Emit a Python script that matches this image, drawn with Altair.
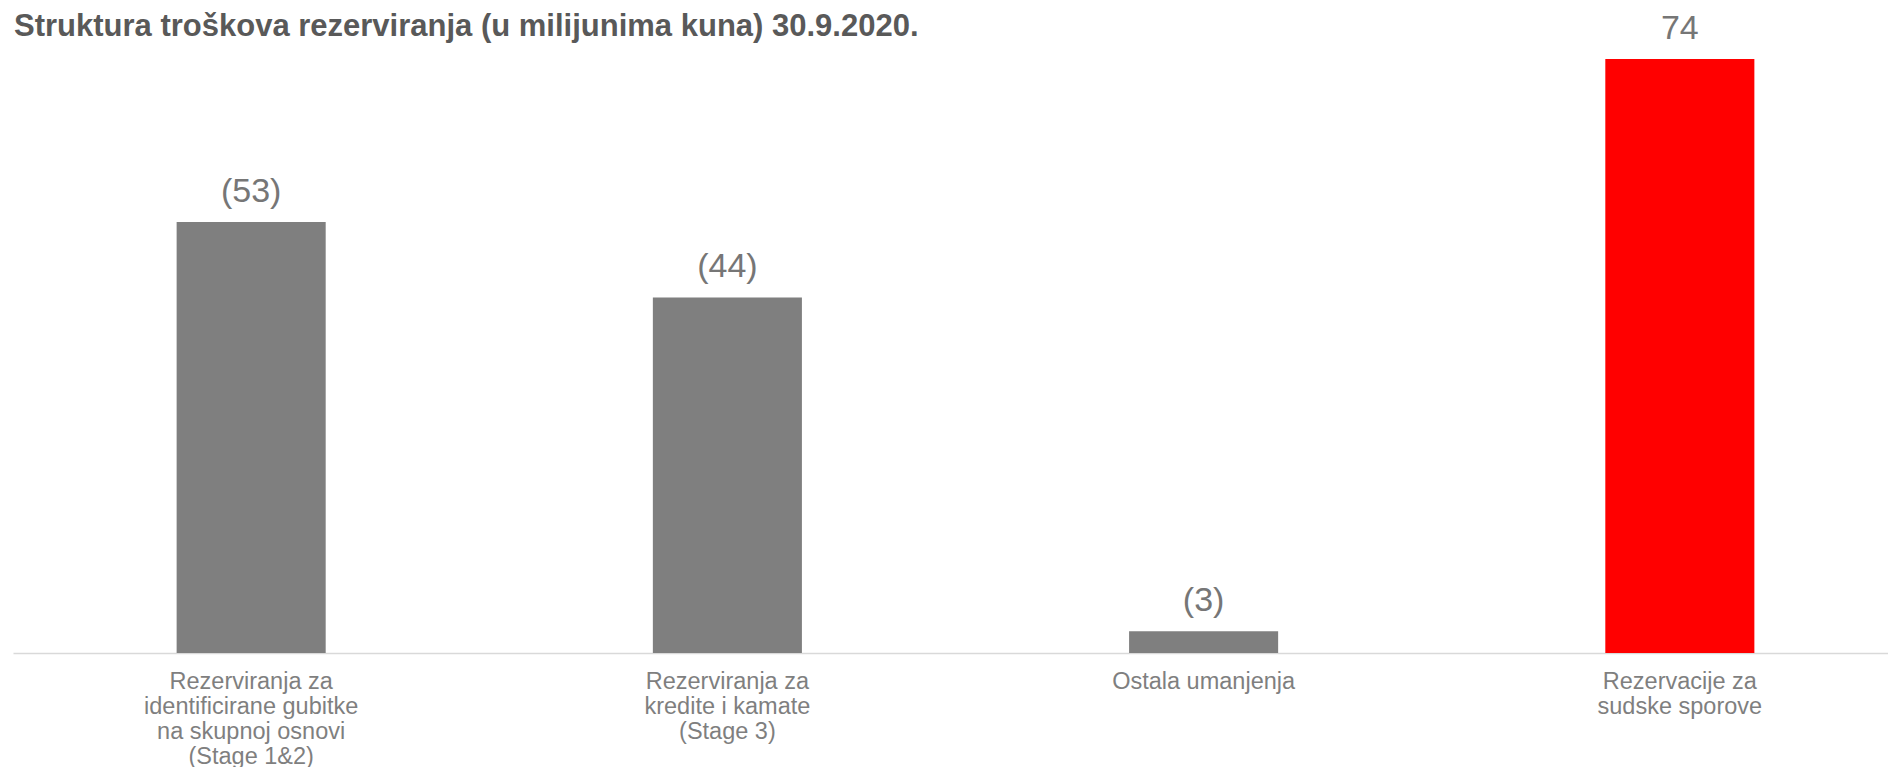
import altair as alt
import pandas as pd

title_text = "Struktura troškova rezerviranja (u milijunima kuna) 30.9.2020."
categories = [
    "Rezerviranja za\nidentificirane gubitke\nna skupnoj osnovi\n(Stage 1&2)",
    "Rezerviranja za\nkredite i kamate\n(Stage 3)",
    "Ostala umanjenja",
    "Rezervacije za\nsudske sporove",
]
values = [53.7, 44.3, 2.7, 74.0]
value_labels = ["(53)", "(44)", "(3)", "74"]
bar_colors = ["#7f7f7f", "#7f7f7f", "#7f7f7f", "#ff0000"]

df = pd.DataFrame({
    "kategorija": categories,
    "iznos": values,
    "oznaka": value_labels,
    "boja": bar_colors,
})
title_df = pd.DataFrame({"naslov": [title_text]})

W, H = 1870, 613
FONT = "Liberation Sans"

x = alt.X(
    "kategorija:N",
    sort=categories,
    title=None,
    scale=alt.Scale(range=[0, 1905], paddingInner=0.687, paddingOuter=0.3436),
    axis=alt.Axis(
        labelAngle=0,
        ticks=False,
        domainColor="#d9d9d9",
        domainWidth=1.5,
        labelColor="#7f7f7f",
        labelFont=FONT,
        labelFontSize=23.5,
        labelLineHeight=25,
        labelPadding=16,
        labelLimit=0,
        labelExpr="split(datum.label, '\\n')",
    ),
)
y = alt.Y("iznos:Q", title=None, scale=alt.Scale(domain=[0, 76.37], nice=False), axis=None)

bars = alt.Chart(df).mark_bar().encode(
    x=x, y=y, color=alt.Color("boja:N", scale=None, legend=None)
)
text = alt.Chart(df).mark_text(
    baseline="alphabetic", dy=-20, font=FONT, fontSize=34, color="#767676"
).encode(x=x, y=y, text="oznaka:N")

title = alt.Chart(title_df).mark_text(
    align="left", baseline="alphabetic", font=FONT, fontSize=31,
    fontWeight="bold", color="#595959"
).encode(x=alt.value(1), y=alt.value(-4), text="naslov:N")

chart = (
    alt.layer(bars, text, title)
    .properties(
        width=W,
        height=H,
        autosize=alt.AutoSizeParams(type="none"),
        padding={"left": 5, "top": 32, "right": 5, "bottom": 114},
    )
    .configure_view(stroke=None)
)

chart.save("out.html", embed_options={"renderer": "svg", "actions": False})
